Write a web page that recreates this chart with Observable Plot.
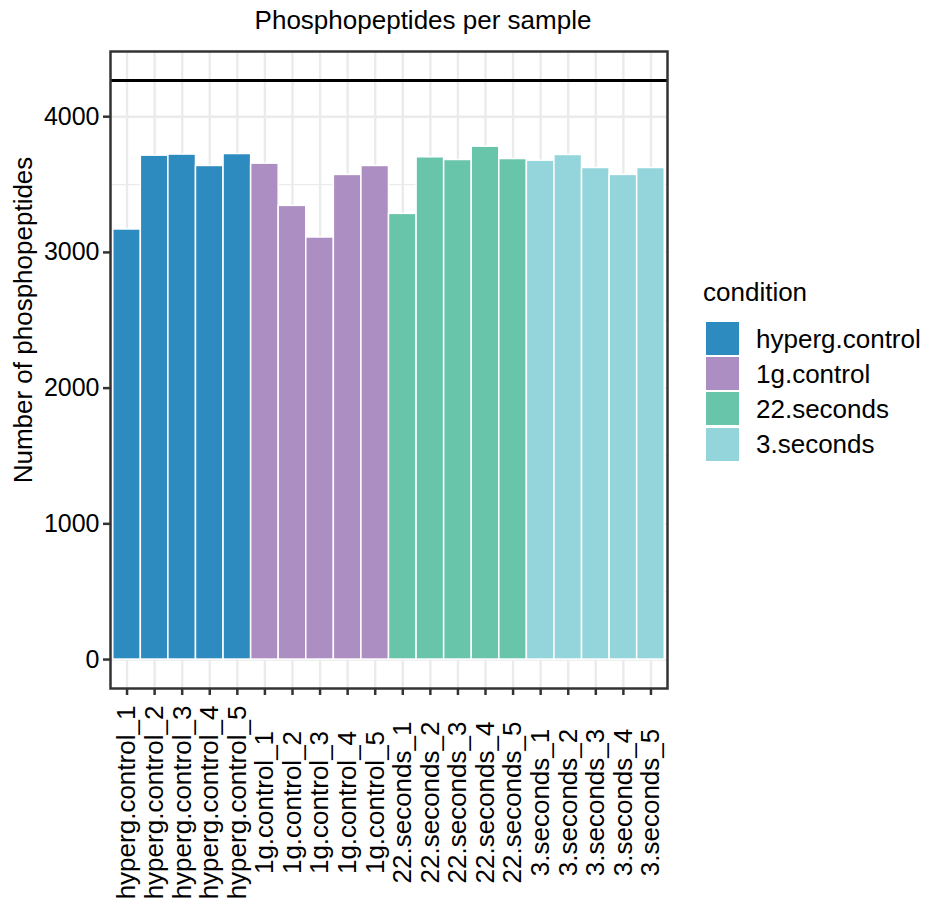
<!DOCTYPE html>
<html>
<head>
<meta charset="utf-8">
<script src="https://cdn.jsdelivr.net/npm/d3@7"></script>
<script src="https://cdn.jsdelivr.net/npm/@observablehq/plot@0.6"></script>
<style>
  html, body { margin: 0; padding: 0; background: #fff; }
  #wrap { position: relative; width: 928px; height: 907px; font-family: "Liberation Sans", Arial, sans-serif; color: #000; }
  #wrap svg { position: absolute; left: 0; top: 0; }
  .title { position: absolute; left: 0; width: 846px; top: 7px; text-align: center; font-size: 26px; line-height: 26px; }
  .ylab { position: absolute; left: 23px; top: 320px; transform: translate(-50%, -50%) rotate(-90deg); font-size: 26px; line-height: 26px; white-space: nowrap; }
  .legend { position: absolute; left: 703px; top: 279px; font-size: 26px; }
  .legend .lt { line-height: 26px; margin-bottom: 16px; }
  .legend .row { display: flex; align-items: center; height: 35.2px; }
  .legend .sw { width: 33px; height: 33px; margin-left: 2px; border: 0.5px solid #fff; }
  .legend .lab { margin-left: 16px; line-height: 26px; white-space: nowrap; }
</style>
</head>
<body>
<div id="wrap"></div>
<script>
const titleText = "Phosphopeptides per sample";
const yTitle = "Number of phosphopeptides";
const legendTitle = "condition";

const samples = [
  "hyperg.control_1", "hyperg.control_2", "hyperg.control_3", "hyperg.control_4", "hyperg.control_5",
  "1g.control_1", "1g.control_2", "1g.control_3", "1g.control_4", "1g.control_5",
  "22.seconds_1", "22.seconds_2", "22.seconds_3", "22.seconds_4", "22.seconds_5",
  "3.seconds_1", "3.seconds_2", "3.seconds_3", "3.seconds_4", "3.seconds_5"
];
const sampleCondition = [
  "hyperg.control", "hyperg.control", "hyperg.control", "hyperg.control", "hyperg.control",
  "1g.control", "1g.control", "1g.control", "1g.control", "1g.control",
  "22.seconds", "22.seconds", "22.seconds", "22.seconds", "22.seconds",
  "3.seconds", "3.seconds", "3.seconds", "3.seconds", "3.seconds"
];
const counts = [
  3169, 3713, 3721, 3637, 3725,
  3654, 3343, 3110, 3571, 3637,
  3284, 3701, 3681, 3779, 3688,
  3676, 3718, 3622, 3571, 3622
];
const conditions = ["hyperg.control", "1g.control", "22.seconds", "3.seconds"];
const colors = ["#2E8BC0", "#AD8EC3", "#69C5AA", "#93D5DA"];
const referenceLine = [4267];
const yTicks = [0, 1000, 2000, 3000, 4000];
const yMinorTicks = [500, 1500, 2500, 3500];

const data = samples.map((s, i) => ({sample: s, condition: sampleCondition[i], count: counts[i]}));

const yMax = referenceLine[0];
const yDomain = [-0.05 * yMax, 1.05 * yMax];

const chart = Plot.plot({
  width: 928,
  height: 907,
  marginLeft: 110,
  marginRight: 261,
  marginTop: 51,
  marginBottom: 219,
  style: {fontFamily: "'Liberation Sans', Arial, sans-serif", fontSize: "26px", color: "#000", background: "transparent", overflow: "visible"},
  x: {domain: samples, paddingInner: 0, paddingOuter: 0.1, round: false, label: null},
  y: {domain: yDomain, label: null},
  color: {domain: conditions, range: colors},
  marks: [
    Plot.gridY(yMinorTicks, {stroke: "#EBEBEB", strokeOpacity: 1, strokeWidth: 1.2}),
    Plot.gridY(yTicks, {stroke: "#EBEBEB", strokeOpacity: 1, strokeWidth: 2.4}),
    Plot.gridX(samples, {stroke: "#EBEBEB", strokeOpacity: 1, strokeWidth: 2.4}),
    Plot.barY(data, {x: "sample", y: "count", fill: "condition", stroke: "white", strokeWidth: 1.5}),
    Plot.ruleY(referenceLine, {stroke: "#000", strokeWidth: 3}),
    Plot.frame({stroke: "#333", strokeWidth: 2.5}),
    Plot.axisY(yTicks, {tickSize: 7, tickPadding: 4, stroke: "#333", strokeWidth: 2.5, fontSize: 25, tickFormat: d3.format("d"), label: null}),
    Plot.axisX(samples, {tickSize: 7, tickRotate: -90, textAnchor: "middle", tickPadding: 107, stroke: "#333", strokeWidth: 2.5, fontSize: 26, label: null})
  ]
});

const wrap = document.getElementById("wrap");
wrap.appendChild(chart);

const t = document.createElement("div");
t.className = "title";
t.textContent = titleText;
wrap.appendChild(t);

const yl = document.createElement("div");
yl.className = "ylab";
yl.textContent = yTitle;
wrap.appendChild(yl);

const lg = document.createElement("div");
lg.className = "legend";
const lt = document.createElement("div");
lt.className = "lt";
lt.textContent = legendTitle;
lg.appendChild(lt);
conditions.forEach((c, i) => {
  const row = document.createElement("div");
  row.className = "row";
  const sw = document.createElement("div");
  sw.className = "sw";
  sw.style.background = colors[i];
  const lab = document.createElement("div");
  lab.className = "lab";
  lab.textContent = c;
  row.appendChild(sw);
  row.appendChild(lab);
  lg.appendChild(row);
});
wrap.appendChild(lg);
</script>
</body>
</html>
